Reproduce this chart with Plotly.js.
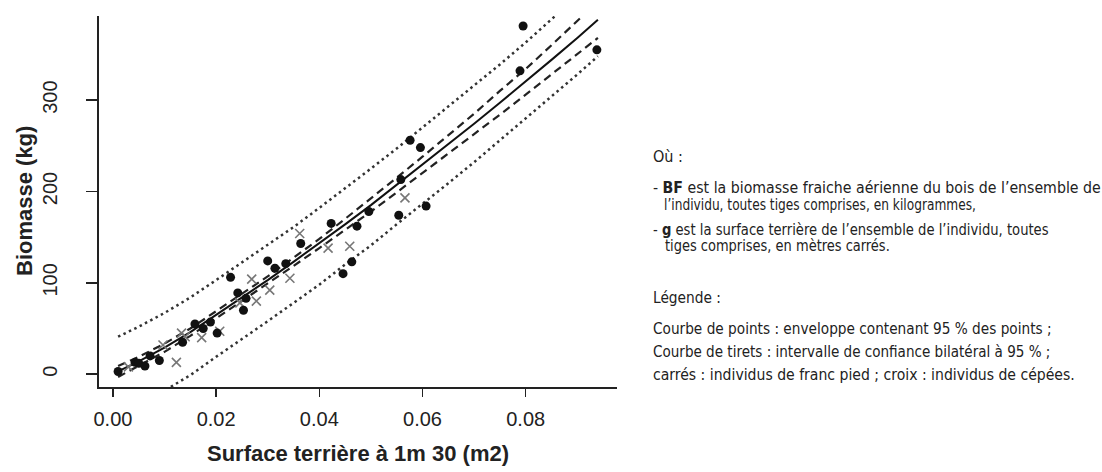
<!DOCTYPE html>
<html><head><meta charset="utf-8">
<script src="https://cdn.plot.ly/plotly-3.0.1.min.js"></script>
<style>html,body{margin:0;padding:0;background:#fff}#chart{width:1102px;height:472px}</style>
</head><body><div id="chart"></div>
<script>
// Individus de franc pied (points pleins)
const francX = [0.001,0.0043,0.005,0.0062,0.0072,0.009,0.0135,0.0159,0.0175,0.0189,0.0202,0.0228,0.0242,0.0253,0.0258,0.0300,0.0314,0.0335,0.0364,0.0423,0.0446,0.0463,0.0473,0.0496,0.0554,0.0558,0.0576,0.0596,0.0607,0.0789,0.0795,0.0938];
const francY = [3,13,12,9,20,15,35,55,50,57,45,106,89,70,83,124,116,121,143,165,110,123,162,178,174,213,256,248,184,332,381,355];
// Individus de cépées (croix)
const cepeeX = [0.003,0.0097,0.0123,0.0133,0.014,0.0172,0.0207,0.0246,0.0269,0.0278,0.0304,0.0343,0.0362,0.0417,0.0459,0.0566];
const cepeeY = [8,32,13,45,41,40,47,78,104,80,92,105,154,138,140,193];
// Courbes
const curveX   = [0.001,0.005,0.01,0.015,0.02,0.025,0.03,0.035,0.04,0.045,0.05,0.055,0.06,0.065,0.07,0.075,0.08,0.085,0.09,0.094];
const fitY     = [3,14,29,46,65,84,103,123,143,164,185,207,229,251,274,297,320,344,368,388];
const ciUpper  = [9,19,33.5,50,69,88,107,127.5,148,170,192,215,238,261,285,310,334,360,386,408];
const ciLower  = [-3,9,24.5,42,61,80,99,118.5,138,158,178,199,220,241,263,284,306,328,350,368];
const envUpper = [41,52,67,84,103,122,141,161,182,203,225,247,270,292,316,339,363,388,413,434];
const envLower = [-45,-34,-18,-1,19,38,58,78,98,120,141,164,186,209,232,256,279,303,328,348];
const xTicks = [0,0.02,0.04,0.06,0.08];
const xTickText = ["0.00","0.02","0.04","0.06","0.08"];
const yTicks = [0,100,200,300];
const yTickText = ["0","100","200","300"];
const xTitle = "Surface terrière à 1m 30 (m2)";
const yTitle = "Biomasse (kg)";

const noteLines = [
  "Où :",
  "- <b>BF</b> est la biomasse fraiche aérienne du bois de l’ensemble de",
  "l’individu, toutes tiges comprises, en kilogrammes,",
  "- <b>g</b> est la surface terrière de l’ensemble de l’individu, toutes",
  "tiges comprises, en mètres carrés.",
  "Légende :",
  "Courbe de points : enveloppe contenant 95 % des points ;",
  "Courbe de tirets : intervalle de confiance bilatéral à 95 % ;",
  "carrés : individus de franc pied ; croix : individus de cépées."
];
// layout of the note lines: [left px, centre y px, right px]
const notePos = [
  [651,157,681],[651,188,1099],[662,205,974],[651,230,1047],[663,246,888],
  [651,298,719],[651,329,1050],[651,352,1049],[651,375,1073]
];

const W = 1102, H = 472, mL = 99, mR = 485, mT = 16, mB = 85;
const pw = W - mL - mR, ph = H - mT - mB;
const px2x = p => (p - mL) / pw;
const px2y = p => (H - mB - p) / ph;

const lineCommon = {mode:'lines', x: curveX, hoverinfo:'skip', showlegend:false};
const traces = [
  Object.assign({}, lineCommon, {y: envUpper, line:{color:'#333', width:2.5, dash:'2.5px,3.5px'}}),
  Object.assign({}, lineCommon, {y: envLower, line:{color:'#333', width:2.5, dash:'2.5px,3.5px'}}),
  Object.assign({}, lineCommon, {y: ciUpper, line:{color:'#222', width:2.2, dash:'8px,5px'}}),
  Object.assign({}, lineCommon, {y: ciLower, line:{color:'#222', width:2.2, dash:'8px,5px'}}),
  Object.assign({}, lineCommon, {y: fitY, line:{color:'#111', width:2}}),
  {type:'scatter', mode:'markers', x: cepeeX, y: cepeeY, showlegend:false,
   marker:{symbol:'x-thin-open', size:9, color:'#777', line:{color:'#777', width:1.6}}},
  {type:'scatter', mode:'markers', x: francX, y: francY, showlegend:false,
   marker:{symbol:'circle', size:9, color:'#111', line:{width:0}}}
];

const noteFont = {family:'"DejaVu Sans Condensed","Liberation Sans Narrow","Liberation Sans",sans-serif', size:15, color:'#222'};
const annotations = noteLines.map((t, i) => ({
  text: t, xref:'paper', yref:'paper', x: px2x(notePos[i][0]), y: px2y(notePos[i][1]),
  xanchor:'left', yanchor:'middle', showarrow:false, align:'left', font:noteFont
}));
annotations.push({
  text:'<b>'+yTitle+'</b>', xref:'paper', yref:'paper', x:px2x(24), y:px2y(201),
  xanchor:'center', yanchor:'middle', textangle:-90, showarrow:false,
  font:{family:'"Liberation Sans", Arial, sans-serif', size:22, color:'#222'}
});

const axisFont = {family:'"Liberation Sans", Arial, sans-serif', size:20, color:'#222'};
const layout = {
  width: W, height: H,
  margin:{l:mL, r:mR, t:mT, b:mB, pad:0},
  paper_bgcolor:'#fff', plot_bgcolor:'#fff',
  showlegend:false,
  xaxis:{
    range:[-0.0027, 0.0977], tickvals:xTicks, ticktext:xTickText,
    showgrid:false, zeroline:false, showline:true, linecolor:'#222', linewidth:2,
    ticks:'outside', ticklen:8, tickwidth:1.5, tickcolor:'#222',
    tickfont:axisFont, ticklabelstandoff:5,
    title:{text:'<b>'+xTitle+'</b>', font:{family:'"Liberation Sans", Arial, sans-serif', size:22, color:'#222'}, standoff:17}
  },
  yaxis:{
    range:[-14, 392], tickvals:yTicks, ticktext:yTickText,
    showgrid:false, zeroline:false, showline:true, linecolor:'#222', linewidth:2,
    ticks:'outside', ticklen:11, tickwidth:1.5, tickcolor:'#222',
    tickfont:axisFont, tickangle:-90, ticklabelstandoff:21
  },
  annotations: annotations
};
Plotly.newPlot('chart', traces, layout, {displayModeBar:false, staticPlot:true}).then(gd => {
  // fit each note line horizontally to the width it takes in the reference (narrow typeface)
  const texts = Array.from(gd.querySelectorAll('g.annotation text.annotation-text')).slice(0, noteLines.length);
  texts.forEach((t, i) => {
    const bb = t.getBBox();
    const target = notePos[i][2] - notePos[i][0];
    const f = Math.min(1.08, target / bb.width);
    const x0 = bb.x;
    const prev = t.getAttribute('transform') || '';
    t.setAttribute('transform', prev + ` translate(${x0*(1-f)},0) scale(${f},1)`);
  });
});
</script></body></html>
